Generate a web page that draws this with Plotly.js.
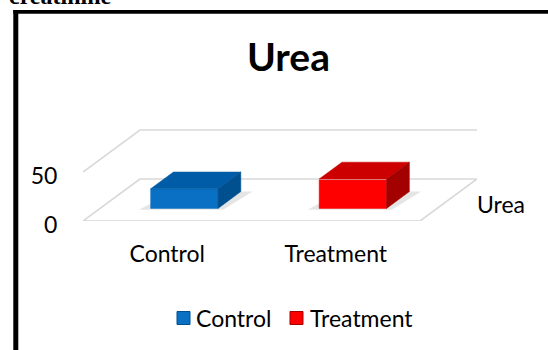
<!DOCTYPE html>
<html>
<head>
<meta charset="utf-8">
<script src="https://cdn.plot.ly/plotly-3.0.1.min.js"></script>
<style>
  html, body { margin: 0; padding: 0; background: #ffffff; }
  #chart { width: 548px; height: 350px; }
</style>
</head>
<body>
<div id="chart"></div>
<script>
// Urea levels per group
const categories = ['Control', 'Treatment'];
const ureaValues = [20, 30];
const seriesName = 'Urea';
const yTickValues = [0, 50];
const yTickLabels = ['0', '50'];

// Face colours for each bar (front, top, side)
const frontColors = ['#0a70c4', '#ff0000'];
const topColors = ['#005ca6', '#cc0000'];
const sideColors = ['#004f8e', '#a30000'];

// Oblique projection of the depth axis (category units / value units)
const DX = 0.338;
const DY = 42.86;
const BAR_W = 0.4;          // bar width as a fraction of a category
const D0 = 0.3, D1 = 0.7;   // bar depth span as a fraction of the floor depth
const nCat = categories.length;
const Y_TOP = 94.9;

// Plot area in pixels, used to place page-level text, legend and frame
const L = 83, R = 71, T = 128, B = 129, W = 548, H = 350;
const pw = W - L - R, ph = H - T - B;
const px = p => (p - L) / pw;
const py = p => (H - B - p) / ph;

const FONT_FAMILY = 'Lato, "Open Sans", sans-serif';
const font = { family: FONT_FAMILY, size: 23, color: '#000000' };

const traces = [];
const shapes = [];
const annotations = [];

// Gridlines: floor outline for 0, side/back wall lines for the other ticks
const gx = [], gy = [];
yTickValues.forEach(t => {
  if (t === 0) {
    gx.push(DX, 0, nCat, nCat + DX, DX, null);
    gy.push(DY, 0, 0, DY, DY, null);
  } else {
    gx.push(0, DX, nCat + DX, null);
    gy.push(t, t + DY, t + DY, null);
  }
});
traces.push({
  type: 'scatter', mode: 'lines', x: gx, y: gy,
  line: { color: '#d9d9d9', width: 1.6 },
  hoverinfo: 'skip', showlegend: false
});

categories.forEach((cat, i) => {
  const v = ureaValues[i];
  const xc = i + 0.5 + D0 * DX;
  const b = D0 * DY;
  const xl = xc - BAR_W / 2, xr = xc + BAR_W / 2;
  const ddx = (D1 - D0) * DX, ddy = (D1 - D0) * DY;

  // soft shadow on the floor, under everything else
  shapes.push({
    type: 'path', xref: 'x', yref: 'y', layer: 'below',
    path: `M${xl - 0.07},${b - 1.3} L${xr + 0.03},${b - 1.3} ` +
          `L${xr + ddx + 0.07},${b + ddy} L${xl + ddx},${b + ddy} Z`,
    fillcolor: 'rgba(0,0,0,0.10)', line: { width: 0 }
  });

  // front face
  traces.push({
    type: 'bar', name: cat, x: [xc], y: [v], base: [b], width: [BAR_W],
    marker: { color: frontColors[i], line: { color: frontColors[i], width: 0.5 } },
    hoverinfo: 'skip', showlegend: false
  });
  // top face
  traces.push({
    type: 'scatter', mode: 'lines', fill: 'toself',
    x: [xl, xr, xr + ddx, xl + ddx, xl],
    y: [b + v, b + v, b + v + ddy, b + v + ddy, b + v],
    fillcolor: topColors[i], line: { color: topColors[i], width: 0.5 },
    hoverinfo: 'skip', showlegend: false
  });
  // side face
  traces.push({
    type: 'scatter', mode: 'lines', fill: 'toself',
    x: [xr, xr, xr + ddx, xr + ddx, xr],
    y: [b, b + v, b + v + ddy, b + ddy, b],
    fillcolor: sideColors[i], line: { color: sideColors[i], width: 0.5 },
    hoverinfo: 'skip', showlegend: false
  });
});

// Legend: coloured key squares with the category names
const keyLeft = [177, 290];
const keyText = [195, 309];
const keyMid = 318, keySize = 13;
categories.forEach((cat, i) => {
  shapes.push({
    type: 'rect', xref: 'paper', yref: 'paper',
    x0: px(keyLeft[i]), x1: px(keyLeft[i] + keySize),
    y0: py(keyMid - keySize / 2), y1: py(keyMid + keySize / 2),
    fillcolor: frontColors[i], line: { color: sideColors[i], width: 1 }
  });
  annotations.push({
    text: cat, xref: 'paper', yref: 'paper',
    x: px(keyText[i]), y: py(keyMid), xanchor: 'left', yanchor: 'middle',
    showarrow: false, font: font, borderpad: 0
  });
});

// Depth (series) axis label
annotations.push({
  text: seriesName, xref: 'paper', yref: 'paper',
  x: px(500.5), y: py(204), xanchor: 'center', yanchor: 'middle',
  showarrow: false, font: font
});

// Heading line above the frame
annotations.push({
  text: '<b>creatinine</b>', xref: 'paper', yref: 'paper',
  x: px(7), y: py(11), xanchor: 'left', yanchor: 'bottom',
  showarrow: false,
  font: { family: '"Liberation Serif", "Times New Roman", serif', size: 24, color: '#000000' }
});

// Frame: thick left and top edges
shapes.push(
  {
    type: 'rect', xref: 'paper', yref: 'paper',
    x0: px(13.3), x1: px(18.3), y0: py(10), y1: py(360),
    fillcolor: '#000000', line: { width: 0 }
  },
  {
    type: 'rect', xref: 'paper', yref: 'paper',
    x0: px(13.3), x1: px(560), y0: py(10), y1: py(13.8),
    fillcolor: '#000000', line: { width: 0 }
  }
);

const layout = {
  width: W, height: H,
  margin: { l: L, r: R, t: T, b: B, pad: 0 },
  paper_bgcolor: '#ffffff', plot_bgcolor: 'rgba(0,0,0,0)',
  barmode: 'overlay',
  font: font,
  showlegend: false,
  title: {
    text: '<b>Urea</b>',
    font: { family: FONT_FAMILY, size: 39, color: '#000000' },
    xref: 'container', yref: 'container',
    x: 288.5 / W, xanchor: 'center', y: 1 - 57 / H, yanchor: 'middle'
  },
  xaxis: {
    range: [0, nCat + DX], showgrid: false, zeroline: false, showline: false,
    tickvals: categories.map((c, i) => i + 0.5), ticktext: categories,
    ticks: 'outside', ticklen: 12, tickcolor: 'rgba(0,0,0,0)',
    tickfont: font, fixedrange: true
  },
  yaxis: {
    range: [0, Y_TOP], showgrid: false, zeroline: false, showline: false,
    tickvals: yTickValues, ticktext: yTickLabels,
    ticks: 'outside', ticklen: 20, tickcolor: 'rgba(0,0,0,0)',
    ticklabelshift: 4,
    tickfont: font, fixedrange: true
  },
  annotations: annotations,
  shapes: shapes
};

Plotly.newPlot('chart', traces, layout, { displayModeBar: false, staticPlot: true });
</script>
</body>
</html>
